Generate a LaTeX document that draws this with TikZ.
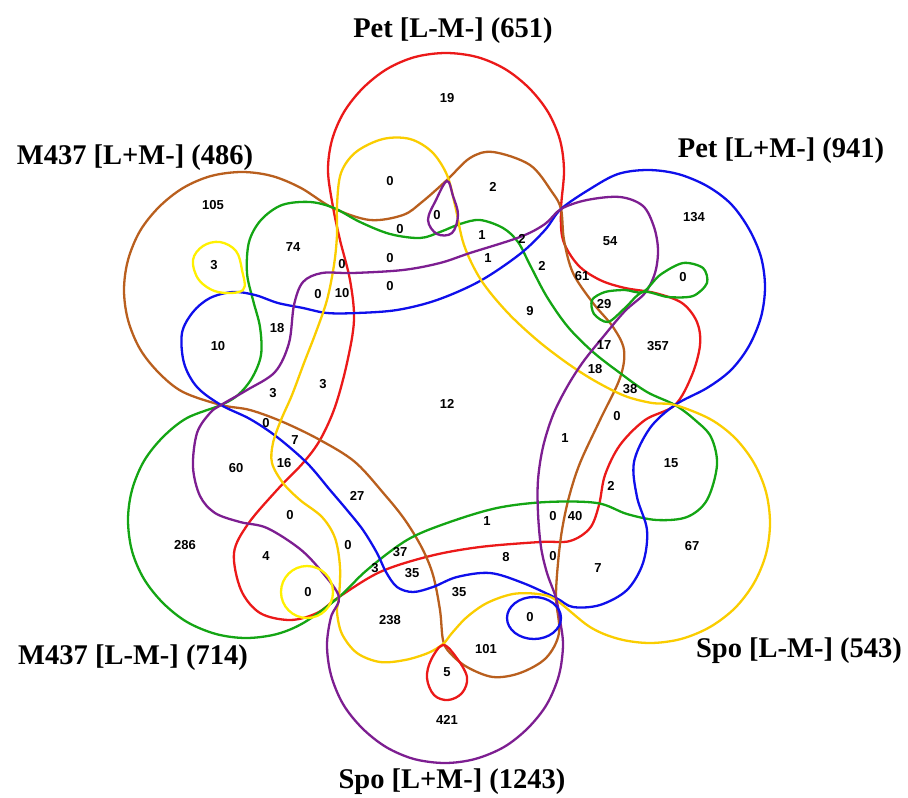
\documentclass[tikz,border=0pt]{standalone}
\usepackage{fontspec}
\setmainfont{Liberation Serif}
\newfontfamily\numfont{Liberation Sans}
\definecolor{cred}{RGB}{235,25,25}
\definecolor{cbrown}{RGB}{185,95,30}
\definecolor{cgreen}{RGB}{20,165,20}
\definecolor{cpurple}{RGB}{125,30,145}
\definecolor{cblue}{RGB}{15,15,235}
\definecolor{cyellow}{RGB}{250,205,0}
\definecolor{cyellowb}{RGB}{255,240,0}
\begin{document}
\begin{tikzpicture}[x=1pt,y=-1pt,line width=2.3pt,
  num/.style={font=\numfont\bfseries\fontsize{13}{13}\selectfont,inner sep=0pt},
  lab/.style={font=\bfseries\fontsize{28.5}{30}\selectfont,inner sep=0pt},
  curve/.style={smooth cycle,tension=0.55}]
\useasboundingbox (0,0) rectangle (908,798);
% red
\draw[cred] plot[curve] coordinates {(446,53) (477,57) (505,69) (529,88) (548,112) (560,140) (564,171) (561,209) (563,240) (578,265) (600,280) (625,288) (655,293) (682,303) (697,322) (700,345) (692,375) (675,405) (645,420) (620,445) (605,475) (599,505) (590,528) (570,541) (540,542) (480,547) (430,556) (380,572) (339,597) (317,613) (290,620) (260,613) (241,590) (234,553) (248,524) (277,490) (303,463) (320,440) (335,407) (347,363) (354,320) (350,280) (340,240) (333,207) (328,171) (332,140) (344,112) (363,88) (387,69) (415,57)};
% brown
\draw[cbrown] plot[curve] coordinates {(221,405) (183,392) (159,373) (140,349) (128,320) (124,290) (128,260) (140,231) (159,207) (183,188) (211,176) (242,172) (272,176) (301,188) (333,208) (370,220) (403,215) (422,202) (447,180) (470,158) (493,152) (530,165) (552,192) (561,209) (564,240) (573,273) (593,303) (613,327) (624,350) (620,378) (600,420) (580,463) (569,497) (562,530) (558,563) (556,598) (559,633) (546,658) (520,673) (493,677) (467,667) (450,653) (443,640) (440,610) (433,575) (422,548) (405,520) (385,495) (355,462) (320,440) (283,422) (250,410)};
% green
\draw[cgreen] plot[curve] coordinates {(221,405) (187,418) (163,437) (144,461) (132,490) (128,520) (132,551) (144,579) (163,603) (187,622) (216,634) (246,638) (277,634) (305,622) (339,597) (367,570) (407,540) (447,523) (497,508) (547,502) (597,503) (627,514) (657,520) (687,517) (707,500) (717,465) (711,437) (695,420) (675,405) (647,392) (620,373) (593,352) (568,327) (547,297) (530,265) (518,242) (503,228) (480,220) (460,224) (440,232) (420,238) (390,234) (360,222) (334,208) (310,202) (282,205) (261,220) (249,242) (247,273) (253,300) (260,327) (261,355) (252,378) (238,395)};
% blue
\draw[cblue] plot[curve] coordinates {(561,209) (590,189) (618,174) (648,170) (678,174) (707,186) (731,204) (749,229) (761,257) (765,287) (761,317) (749,346) (731,370) (707,388) (675,405) (650,428) (634,462) (637,497) (647,530) (643,563) (627,590) (600,605) (573,607) (556,598) (523,583) (490,573) (457,577) (433,587) (413,592) (397,587) (386,572) (377,553) (363,530) (347,510) (330,490) (307,463) (277,437) (250,419) (221,405) (197,387) (184,363) (182,333) (193,312) (210,298) (233,292) (255,295) (278,303) (303,308) (327,313) (357,313) (397,310) (437,300) (480,281) (520,254) (545,230)};
% yellow
\draw[cyellow] plot[curve] coordinates {(675,405) (710,419) (735,438) (754,463) (766,492) (770,523) (766,554) (754,583) (735,608) (710,627) (681,639) (650,643) (619,639) (590,627) (556,600) (538,594) (513,594) (487,603) (467,617) (452,633) (443,644) (428,653) (405,660) (380,662) (357,653) (342,634) (337,612) (339,597) (340,567) (335,538) (322,517) (300,500) (283,483) (272,463) (273,443) (281,420) (292,395) (304,363) (316,332) (327,300) (334,265) (337,235) (337,205) (341,173) (356,152) (383,139) (410,139) (432,152) (447,175) (455,205) (464,245) (481,280) (507,312) (537,340) (567,363) (595,381) (625,396) (652,403)};
% purple
\draw[cpurple] plot[curve] coordinates {(339,597) (322,572) (300,549) (267,528) (240,522) (215,513) (200,496) (193,467) (197,433) (210,413) (221,405) (247,390) (275,372) (289,343) (294,305) (303,282) (322,273) (353,273) (403,270) (440,263) (470,253) (520,237) (545,224) (561,209) (587,200) (620,197) (643,206) (654,227) (658,250) (655,273) (645,293) (625,311) (603,337) (583,362) (567,387) (553,415) (543,447) (538,480) (538,513) (541,547) (547,573) (556,598) (560,620) (563,645) (559,675) (547,704) (528,728) (504,747) (475,759) (445,763) (414,759) (386,747) (362,728) (343,704) (331,675) (327,645) (331,617)};
% small loops
\draw[cyellowb] plot[smooth cycle,tension=0.6] coordinates {(243,290) (218,292) (199,280) (193,260) (203,246) (220,242) (236,251) (242,270)};
\draw[cpurple] plot[smooth cycle,tension=0.6] coordinates {(447,181) (436,200) (428,220) (437,234) (452,233) (458,215) (453,196)};
\draw[cred] plot[smooth cycle,tension=0.6] coordinates {(443,645) (431,660) (427,678) (434,695) (448,700) (462,693) (467,677) (456,657)};
\draw[cgreen] plot[smooth cycle,tension=0.5] coordinates {(643,292) (660,275) (683,263) (703,268) (707,283) (693,296) (668,297) (643,292) (625,308) (608,322) (594,314) (592,300) (605,292) (625,290)};
\draw[cblue] (534,618) ellipse [x radius=27, y radius=21];
\draw[cyellowb] (307,592) circle [radius=26];
% labels
\node[lab] (l1) at (453,31) {Pet [L-M-] (651)};
\node[lab] (l2) at (135,158) {M437 [L+M-] (486)};
\node[lab] (l3) at (781,151) {Pet [L+M-] (941)};
\node[lab] (l4) at (133,658) {M437 [L-M-] (714)};
\node[lab] (l5) at (799,651) {Spo [L-M-] (543)};
\node[lab] (l6) at (452,782) {Spo [L+M-] (1243)};
% numbers
\foreach \x/\y/\t [count=\i] in {447/98/19, 390/181/0, 493/187/2, 437/215/0, 213/205/105, 293/247/74, 400/229/0, 482/235/1, 522/239/2, 390/258/0, 342/264/0, 488/258/1, 542/266/2, 610/241/54, 694/217/134, 683/277/0, 214/265/3, 318/294/0, 342/293/10, 390/286/0, 530/311/9, 582/276/61, 604/304/29, 658/346/357, 218/346/10, 277/328/18, 604/345/17, 595/369/18, 630/389/38, 273/393/3, 323/384/3, 447/404/12, 617/416/0, 266/423/0, 295/440/7, 565/438/1, 236/468/60, 284/463/16, 671/463/15, 611/486/2, 357/496/27, 290/515/0, 487/521/1, 553/516/0, 575/516/40, 185/545/286, 348/545/0, 692/546/67, 400/552/37, 506/557/8, 553/556/0, 266/556/4, 598/568/7, 375/568/3, 412/573/35, 459/592/35, 308/592/0, 530/617/0, 390/620/238, 486/649/101, 447/672/5, 447/720/421}
  \node[num] (n\i) at (\x,\y) {\t};
\end{tikzpicture}
\end{document}
